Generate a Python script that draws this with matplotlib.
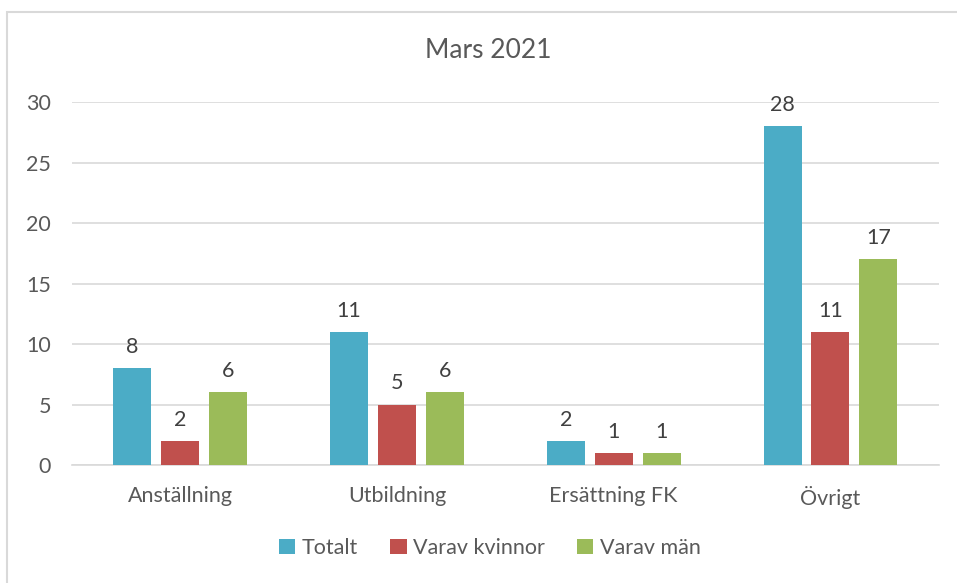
import matplotlib.pyplot as plt
from matplotlib.patches import Rectangle
import numpy as np

plt.rcParams['font.family'] = ['Lato', 'DejaVu Sans']

categories = ['Anställning', 'Utbildning', 'Ersättning FK', 'Övrigt']
series = ['Totalt', 'Varav kvinnor', 'Varav män']
totalt = [8, 11, 2, 28]
kvinnor = [2, 5, 1, 11]
man = [6, 6, 1, 17]
colors = ['#4BACC6', '#C0504D', '#9BBB59']
text_col = '#595959'

fig = plt.figure(figsize=(9.57, 5.83), dpi=100)
ax = fig.add_axes([0.0752, 0.2024, 0.9058, 0.6226])

# chart border
fig.patches.append(Rectangle((7 / 957, -0.1), 1.1, 1 - 12 / 583 + 0.1,
                             transform=fig.transFigure, fill=False,
                             edgecolor='#D9D9D9', linewidth=1.5))

x = np.arange(len(categories))
w = 0.175
step = 0.221
for i, (vals, name) in enumerate(zip([totalt, kvinnor, man], series)):
    bars = ax.bar(x + (i - 1) * step, vals, w, color=colors[i], label=name,
                  zorder=3)
    ax.bar_label(bars, padding=8, fontsize=15.5, color='#404040')

ax.set_xlim(-0.5, len(categories) - 0.5)
ax.set_ylim(0, 30)
ax.set_yticks(range(0, 31, 5))
ax.set_xticks(x)
ax.set_xticklabels(categories)
ax.grid(axis='y', color='#D9D9D9', linewidth=1.2, zorder=0)
for s in ['top', 'right', 'left']:
    ax.spines[s].set_visible(False)
ax.spines['bottom'].set_color('#D9D9D9')
ax.spines['bottom'].set_linewidth(1.2)
ax.tick_params(axis='both', length=0, labelsize=15.5, colors=text_col)
ax.tick_params(axis='y', pad=15)
ax.tick_params(axis='x', pad=15)

fig.text(0.51, 1 - 50 / 583, 'Mars 2021', ha='center', va='center',
         fontsize=19, color=text_col)

fig.legend(loc='center', bbox_to_anchor=(0.512, 1 - 548 / 583), ncol=3,
           frameon=False, fontsize=15.5, labelcolor=text_col,
           handlelength=0.75, handleheight=0.75, handletextpad=0.3,
           columnspacing=1.5)

fig.savefig('out.png', dpi=100)
